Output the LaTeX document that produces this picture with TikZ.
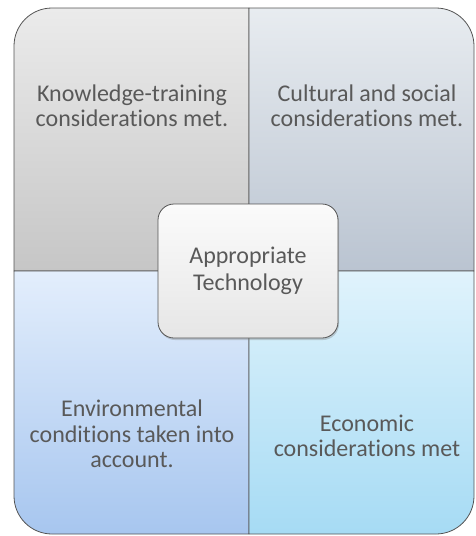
\documentclass[tikz,border=0pt]{standalone}
\usepackage{fontspec}
\setmainfont{Carlito}[Ligatures=NoCommon]
\usetikzlibrary{shadows}
\definecolor{txtgray}{rgb}{0.35,0.35,0.35}
\definecolor{edgegray}{rgb}{0.33,0.33,0.33}
\definecolor{tlTop}{HTML}{EBEBEB}
\definecolor{tlBot}{HTML}{C6C6C6}
\definecolor{trTop}{HTML}{E8ECF0}
\definecolor{trBot}{HTML}{BAC4D1}
\definecolor{blTop}{HTML}{E3EEFC}
\definecolor{blBot}{HTML}{A7C6EF}
\definecolor{brTop}{HTML}{E0F3FC}
\definecolor{brBot}{HTML}{A6DBF4}
\definecolor{ctTop}{HTML}{FBFBFB}
\definecolor{ctBot}{HTML}{E6E6E6}

\begin{document}
\begin{tikzpicture}[x=1pt,y=-1pt,line cap=round,line join=round,
  quad/.style={draw=edgegray,line width=0.8pt},
  label/.style={text=txtgray,align=center,font=\fontsize{24}{25.5}\selectfont},
  center/.style={draw=edgegray,line width=0.8pt,rounded corners=16pt,
    top color=ctTop,bottom color=ctBot,minimum width=180pt,minimum height=134pt,
    drop shadow={opacity=0.35,shadow xshift=1pt,shadow yshift=-2pt},
    text=txtgray,align=center,font=\fontsize{24}{26.5}\selectfont}]
\useasboundingbox (0,0) rectangle (475,536);
% quadrants
\draw[quad,top color=tlTop,bottom color=tlBot] (14,271) -- (14,46) arc (180:270:38) -- (249,8) -- (249,271) -- cycle;
\draw[quad,top color=trTop,bottom color=trBot] (249,271) -- (249,8) -- (436,8) arc (270:360:38) -- (474,271) -- cycle;
\draw[quad,top color=blTop,bottom color=blBot] (14,271) -- (249,271) -- (249,534) -- (52,534) arc (90:180:38) -- cycle;
\draw[quad,top color=brTop,bottom color=brBot] (249,271) -- (474,271) -- (474,496) arc (0:90:38) -- (249,534) -- cycle;
\node[label] (knowledge) at (132,106) {Knowledge-training\\considerations met.};
\node[label] (cultural) at (367,106) {Cultural and social\\considerations met.};
\node[label] (environ) at (132,434) {Environmental\\conditions taken into\\account.};
\node[label] (economic) at (367,436) {Economic\\considerations met};
% centre
\node[center] (tech) at (248,271) {Appropriate\\Technology};
\end{tikzpicture}
\end{document}
